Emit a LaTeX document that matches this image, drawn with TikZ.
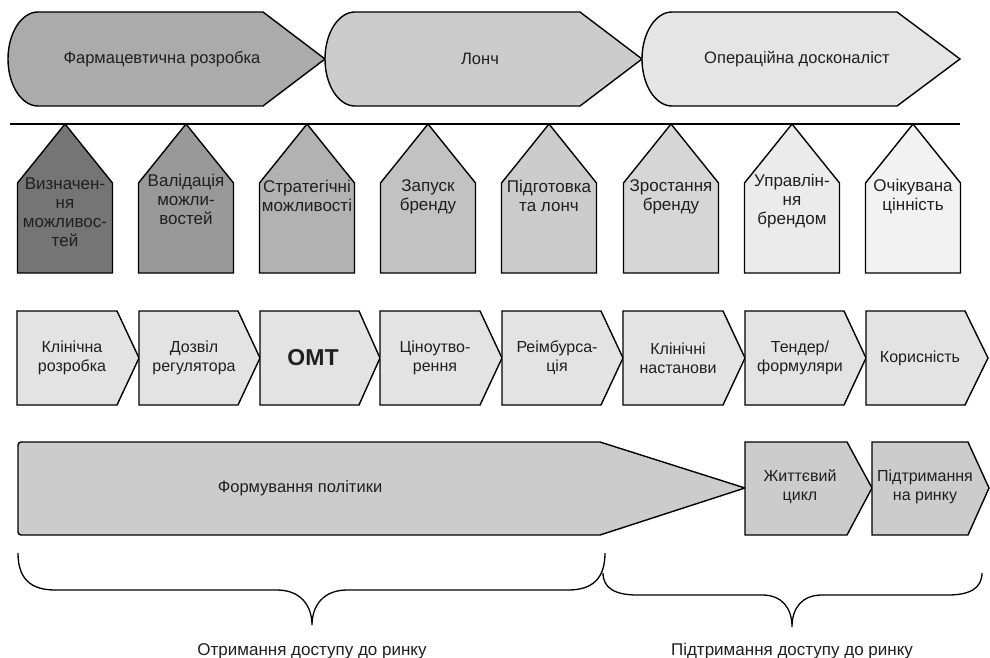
\documentclass[tikz,border=0pt]{standalone}
\usepackage{fontspec}
\setmainfont{Liberation Sans}
\usetikzlibrary{calc, positioning}

\begin{document}
\begin{tikzpicture}[
    x=1pt, y=-1pt,
    etap/.style={draw, line width=1.4pt, line join=miter},
    napys/.style={align=center, inner sep=0pt, text=black!88, font=\fontsize{16}{19}\selectfont},
    pidpys/.style={inner sep=0pt, text=black!88, font=\fontsize{17}{19}\selectfont}
]
    \useasboundingbox (0,0) rectangle (990,658);

    % 1. Верхній ряд: три фази
    \draw[etap, fill=black!33] (38,12) -- (263,12) -- (325,59) -- (263,106) -- (38,106)
        arc[start angle=90, end angle=270, x radius=30, y radius=47] -- cycle;
    \draw[etap, fill=black!20] (355,12) -- (580,12) -- (642,59) -- (580,106) -- (355,106)
        arc[start angle=90, end angle=270, x radius=30, y radius=47] -- cycle;
    \draw[etap, fill=black!10] (672,12) -- (897,12) -- (960,59) -- (897,106) -- (672,106)
        arc[start angle=90, end angle=270, x radius=30, y radius=47] -- cycle;

    \node[napys, font=\fontsize{16.5}{19}\selectfont] (farm) at (162,59) {Фармацевтична розробка};
    \node[napys, font=\fontsize{16.5}{19}\selectfont] (lonch) at (480,59) {Лонч};
    \node[napys, font=\fontsize{16.5}{19}\selectfont] (oper) at (797,59) {Операційна досконаліст};

    % 2. Лінія, на якій висять будиночки
    \coordinate (L0) at (10,124);
    \coordinate (L1) at (960,124);
    \draw[line width=1.4pt] (L0) -- (L1);

    % 3. Будиночки (вершина торкається лінії)
    \draw[etap, fill=black!54] (65,124) -- (112.5,183) -- (112.5,273) -- (17.5,273) -- (17.5,183) -- cycle;
    \draw[etap, fill=black!40] (186,124) -- (233.5,183) -- (233.5,273) -- (138.5,273) -- (138.5,183) -- cycle;
    \draw[etap, fill=black!30] (307,124) -- (354.5,183) -- (354.5,273) -- (259.5,273) -- (259.5,183) -- cycle;
    \draw[etap, fill=black!24] (428,124) -- (475.5,183) -- (475.5,273) -- (380.5,273) -- (380.5,183) -- cycle;
    \draw[etap, fill=black!20] (549,124) -- (596.5,183) -- (596.5,273) -- (501.5,273) -- (501.5,183) -- cycle;
    \draw[etap, fill=black!16] (671,124) -- (718.5,183) -- (718.5,273) -- (623.5,273) -- (623.5,183) -- cycle;
    \draw[etap, fill=black!8] (792,124) -- (839.5,183) -- (839.5,273) -- (744.5,273) -- (744.5,183) -- cycle;
    \draw[etap, fill=black!5] (913,124) -- (960.5,183) -- (960.5,273) -- (865.5,273) -- (865.5,183) -- cycle;

    \node[napys, anchor=north, font=\fontsize{17}{19}\selectfont] (b1) at (65,178) {Визначен-\\ня\\можливос-\\тей};
    \node[napys, anchor=north, font=\fontsize{17}{19}\selectfont] (b2) at (186,174) {Валідація\\можли-\\востей};
    \node[napys, anchor=north, font=\fontsize{17}{19}\selectfont] (b3) at (307,180) {Стратегічні\\можливості};
    \node[napys, anchor=north, font=\fontsize{17}{19}\selectfont] (b4) at (428,179) {Запуск\\бренду};
    \node[napys, anchor=north, font=\fontsize{17}{19}\selectfont] (b5) at (549,180) {Підготовка\\та лонч};
    \node[napys, anchor=north, font=\fontsize{17}{19}\selectfont] (b6) at (671,179) {Зростання\\бренду};
    \node[napys, anchor=north, font=\fontsize{17}{19}\selectfont] (b7) at (792,174) {Управлін-\\ня\\брендом};
    \node[napys, anchor=north, font=\fontsize{17}{19}\selectfont] (b8) at (913,179) {Очікувана\\цінність};

    % 4. Ряд шевронів
    \draw[etap, fill=black!11] (17,311) -- (117,311) -- (139,358) -- (117,405) -- (17,405) -- cycle;
    \draw[etap, fill=black!11] (139,311) -- (238,311) -- (260,358) -- (238,405) -- (139,405) -- cycle;
    \draw[etap, fill=black!11] (260,311) -- (359,311) -- (380,358) -- (359,405) -- (260,405) -- cycle;
    \draw[etap, fill=black!11] (380,311) -- (480,311) -- (502,358) -- (480,405) -- (380,405) -- cycle;
    \draw[etap, fill=black!11] (502,311) -- (601,311) -- (623,358) -- (601,405) -- (502,405) -- cycle;
    \draw[etap, fill=black!11] (623,311) -- (723,311) -- (745,358) -- (723,405) -- (623,405) -- cycle;
    \draw[etap, fill=black!11] (745,311) -- (844,311) -- (866,358) -- (844,405) -- (745,405) -- cycle;
    \draw[etap, fill=black!11] (866,311) -- (965,311) -- (988,358) -- (965,405) -- (866,405) -- cycle;

    \node[napys] (c1) at (72,358) {Клінічна\\розробка};
    \node[napys] (c2) at (194,358) {Дозвіл\\регулятора};
    \node[napys, font=\fontsize{23}{25}\selectfont\bfseries] (c3) at (313,358) {ОМТ};
    \node[napys] (c4) at (435,358) {Ціноутво-\\рення};
    \node[napys] (c5) at (557,358) {Реімбурса-\\ція};
    \node[napys] (c6) at (678,358) {Клінічні\\настанови};
    \node[napys] (c7) at (800,358) {Тендер/\\формуляри};
    \node[napys] (c8) at (920,358) {Корисність};

    % 5. Нижній ряд
    \draw[etap, fill=black!20] (600,442) -- (745,488) -- (600,535)
        [rounded corners=3pt] -- (18,535) -- (18,442) [sharp corners] -- cycle;
    \draw[etap, fill=black!20] (745,442) -- (847,442) -- (872,488) -- (847,535) -- (745,535) -- cycle;
    \draw[etap, fill=black!20] (872,442) -- (968,442) -- (989,488) -- (968,535) -- (872,535) -- cycle;

    \node[napys, font=\fontsize{16.5}{19}\selectfont] (polit) at (300,488) {Формування політики};
    \node[napys] (zhyt) at (800,487) {Життєвий\\цикл};
    \node[napys] (pidtr) at (925,487) {Підтримання\\на ринку};

    % 6. Фігурні дужки та підписи
    \draw[line width=1.3pt] (18,553) .. controls (18,578) and (30,590) .. (55,590) -- (277,590)
        .. controls (300,590) and (312,605) .. (312,625)
        .. controls (312,605) and (324,590) .. (347,590) -- (568,590)
        .. controls (593,590) and (605,578) .. (605,553);
    \draw[line width=1.3pt] (603,573) .. controls (603,588) and (615,595) .. (637,595) -- (762,595)
        .. controls (782,595) and (792,608) .. (792,627)
        .. controls (792,608) and (802,595) .. (822,595) -- (948,595)
        .. controls (970,595) and (982,588) .. (982,573);

    \node[pidpys, anchor=base] (otr) at (312,655) {Отримання доступу до ринку};
    \node[pidpys, anchor=base] (pidtrd) at (792,655) {Підтримання доступу до ринку};

\end{tikzpicture}
\end{document}
